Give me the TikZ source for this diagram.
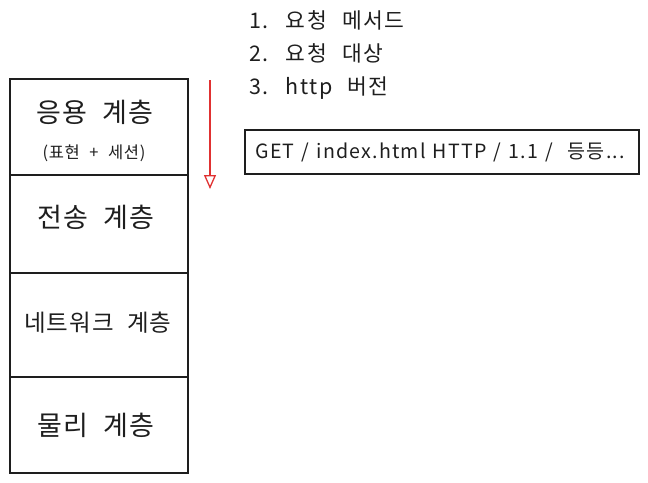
\documentclass[tikz,border=0pt]{standalone}
\usepackage{fontspec}
\setmainfont{Noto Sans CJK KR}
\newfontfamily\kr[WordSpace=2.2, LetterSpace=4]{Noto Sans CJK KR}
\newfontfamily\krl[WordSpace=2.4, LetterSpace=7]{Noto Sans CJK KR}
\newfontfamily\krn[WordSpace=1.3, LetterSpace=6]{Noto Sans CJK KR}
\usetikzlibrary{arrows.meta}
\definecolor{exred}{HTML}{E03131}
\definecolor{ink}{HTML}{1E1E1E}
\tikzset{
  layer/.style={draw=ink, line width=1.6pt, minimum width=178pt, inner sep=0pt},
  big/.style={font=\kr\fontsize{27}{30}\selectfont, text=ink},
  small/.style={font=\kr\fontsize{16.5}{18}\selectfont, text=ink},
  mid/.style={font=\kr\fontsize{23.5}{26}\selectfont, text=ink},
  listtxt/.style={font=\krl\fontsize{21.5}{33}\selectfont, text=ink, align=left, anchor=north west, inner sep=0pt},
}
\begin{document}
\begin{tikzpicture}[x=1pt,y=-1pt]
\useasboundingbox (0,0) rectangle (648,482);
% layers
\node[layer, minimum height=96pt, anchor=north west] (app) at (9,78) {};
\node[layer, minimum height=98pt, anchor=north west] (trans) at (9,174) {};
\node[layer, minimum height=104pt, anchor=north west] (net) at (9,272) {};
\node[layer, minimum height=96pt, anchor=north west] (phys) at (9,376) {};
\node[big] (appt) at (95,112) {응용 계층};
\node[small] (apps) at (94,153) {(표현 + 세션)};
\node[big] (transt) at (96,217) {전송 계층};
\node[mid] (nett) at (98,323) {네트워크 계층};
\node[big] (physt) at (96,425) {물리 계층};
% arrow
\coordinate (a1) at (210,80);
\coordinate (a2) at (210,189);
\draw[exred, line width=1.3pt, -{Triangle[open, length=14pt, width=12pt, line width=1.3pt]}] (a1) -- (a2);
% list
\node[listtxt] (list) at (249,10) {1. 요청 메서드\\2. 요청 대상\\3. http 버전};
% GET box
\node[draw=ink, line width=1.6pt, minimum width=394pt, minimum height=44pt, anchor=north west] (getbox) at (244,129) {};
\node[font=\krn\fontsize{19.6}{22}\selectfont, text=ink, anchor=west] (gett) at (252,152) {GET / index.html HTTP / 1.1 /\ \ 등등...};
\end{tikzpicture}
\end{document}
